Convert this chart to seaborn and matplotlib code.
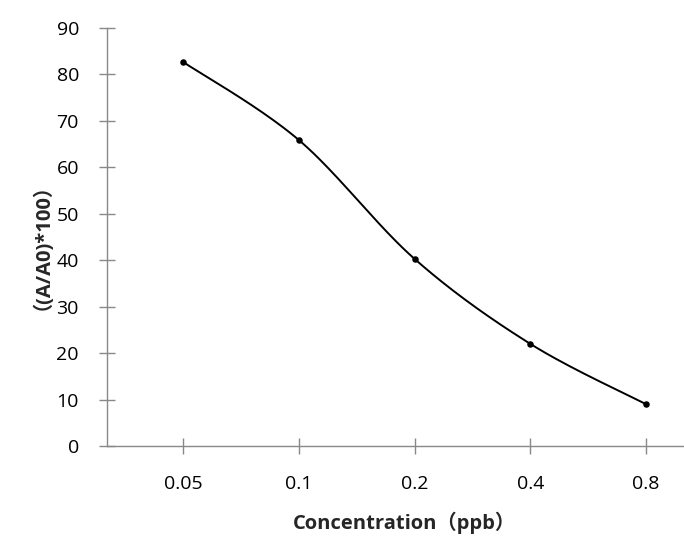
import numpy as np
import pandas as pd
import matplotlib
matplotlib.use("Agg")
import matplotlib.pyplot as plt
import seaborn as sns

# data
concentration = ["0.05", "0.1", "0.2", "0.4", "0.8"]
ratio = [82.7, 65.9, 40.3, 22.0, 9.0]
yticks = [0, 10, 20, 30, 40, 50, 60, 70, 80, 90]

sns.set_style("white")
plt.rcParams["font.family"] = ["Open Sans", "Noto Sans CJK SC", "DejaVu Sans"]

df = pd.DataFrame({"conc": concentration, "ratio": ratio})
df["pos"] = np.arange(len(df))

axis_grey = "#898989"

W, H = 684, 548
left_px, bottom_px, top_px = 107, 446, 28
fig = plt.figure(figsize=(W / 100, H / 100), dpi=100)
ax = fig.add_axes([left_px / W, (H - bottom_px) / H, 1 - left_px / W, (bottom_px - top_px) / H])


# Excel-style smoothed line: cubic bezier with catmull-rom control points
def smooth_curve(x, y, n=40):
    pts = np.column_stack([x, y]).astype(float)
    padded = np.vstack([pts[0], pts, pts[-1]])
    out = []
    for i in range(len(pts) - 1):
        p0, p1, p2, p3 = padded[i], padded[i + 1], padded[i + 2], padded[i + 3]
        c1 = p1 + (p2 - p0) / 6
        c2 = p2 - (p3 - p1) / 6
        t = np.linspace(0, 1, n)[:, None]
        seg = ((1 - t) ** 3) * p1 + 3 * ((1 - t) ** 2) * t * c1 + 3 * (1 - t) * t ** 2 * c2 + t ** 3 * p2
        out.append(seg)
    return np.vstack(out)


curve = smooth_curve(df["pos"], df["ratio"])
ax.plot(curve[:, 0], curve[:, 1], color="black", lw=1.4, zorder=3)
sns.scatterplot(data=df, x="pos", y="ratio", color="black", s=22, edgecolor="black",
                linewidth=0, zorder=4, ax=ax)

step = (646 - 183) / 4
ax.set_xlim(-(183 - left_px) / step, (W - 183) / step)
ax.set_ylim(0, 90)
ax.set_xticks(df["pos"])
ax.set_xticklabels(concentration)
ax.set_yticks(yticks)

for side in ["top", "right"]:
    ax.spines[side].set_visible(False)
for side in ["left", "bottom"]:
    ax.spines[side].set_color(axis_grey)
    ax.spines[side].set_linewidth(1.0)

ax.tick_params(axis="both", which="major", bottom=True, left=True, direction="inout",
               length=11.5, width=1.0, color=axis_grey, labelsize=14, labelcolor="black")
ax.tick_params(axis="x", pad=15)
ax.tick_params(axis="y", pad=14.5)

ax.set_xlabel("Concentration（ppb）", fontsize=14.5, fontweight="bold")
ax.set_ylabel("（(A/A0)*100）", fontsize=14.5, fontweight="bold")
ax_w = W - left_px
ax_h = bottom_px - top_px
ax.xaxis.set_label_coords((404 - left_px) / ax_w, -(523 - bottom_px) / ax_h)
ax.yaxis.set_label_coords(-(left_px - 32) / ax_w, (bottom_px - 237) / ax_h)
ax.xaxis.label.set_va("center")
ax.yaxis.label.set_va("center")
ax.grid(False)

fig.savefig("out.png", dpi=100)
